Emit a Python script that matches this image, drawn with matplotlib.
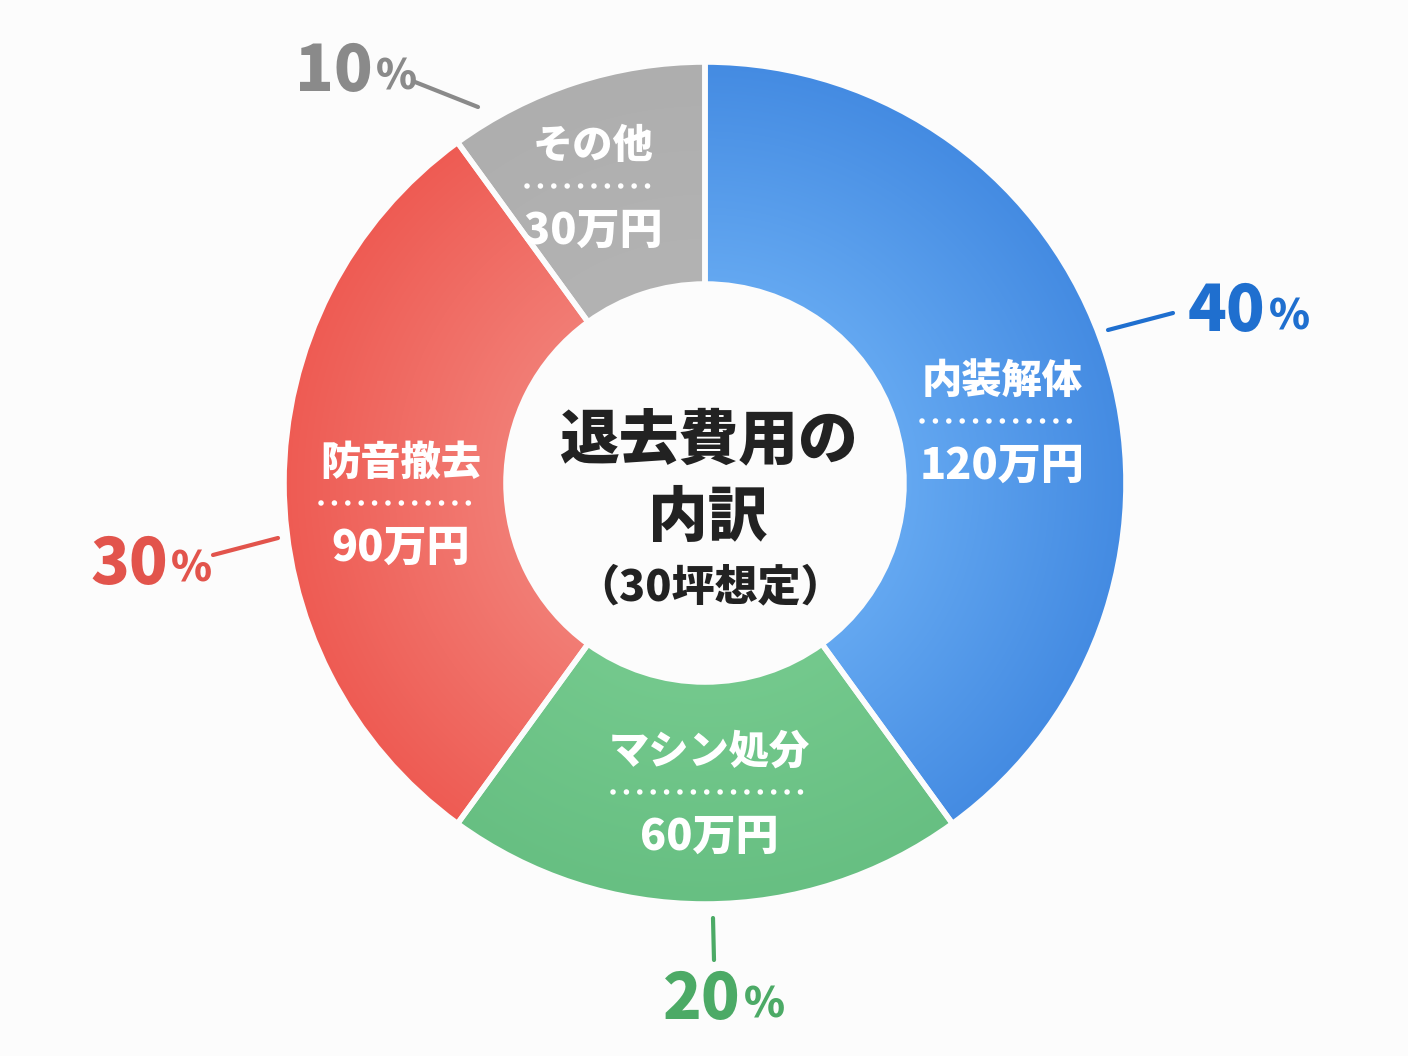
import matplotlib.pyplot as plt
import numpy as np
from matplotlib.colors import LinearSegmentedColormap

plt.rcParams['font.family'] = ['Noto Sans CJK JP', 'DejaVu Sans']

# data
categories = ['内装解体', 'マシン処分', '防音撤去', 'その他']
amounts = [120, 60, 90, 30]  # 万円
colors = ['#4f95e6', '#6dc487', '#ef6962', '#b0b0b0']
pct_colors = ['#1f6fcf', '#4caa66', '#e2544c', '#8a8a8a']

title_lines = ['退去費用の', '内訳', '（30坪想定）']

# shading: (inner colour, outer colour) for each wedge
shade = [('#64a8f1', '#448be2'), ('#74c98d', '#67bf82'),
         ('#f27d75', '#ee5b53'), ('#b3b3b3', '#aeaeae')]

W, H = 1408, 1056
CX, CY = 705, 483
R_OUT, R_IN = 421, 199
BG = '#fcfcfc'

# layout (pixel coords, y down)
inner_pos = [(1002, 421, 160), (709, 792, 192), (401, 503, 160), (593, 186, 133)]
pct_pos = [(1188, 312), (663, 1000), (90, 565), (295, 72)]
leader = [((1108, 330), (1173, 313)), ((713, 918), (714, 960)),
          ((213, 555), (278, 538)), ((415, 82), (478, 107))]


def fy(y):
    return H - y


fig = plt.figure(figsize=(W / 100, H / 100), dpi=100)
fig.patch.set_facecolor(BG)
ax = fig.add_axes([0, 0, 1, 1])

total = sum(amounts)
wedges, _ = ax.pie(amounts, colors=colors, startangle=90, counterclock=False,
                   center=(CX, fy(CY)), radius=R_OUT, frame=True,
                   wedgeprops=dict(width=R_OUT - R_IN, edgecolor=BG, linewidth=4))

# radial shading inside each wedge
gx, gy = np.meshgrid(np.arange(W) + 0.5, np.arange(H) + 0.5)
rr = np.hypot(gx - CX, gy - fy(CY))
rr = np.clip((rr - R_IN) / (R_OUT - R_IN), 0, 1)
for wdg, (c0, c1) in zip(wedges, shade):
    cmap = LinearSegmentedColormap.from_list('s', [c0, c1])
    im = ax.imshow(rr, cmap=cmap, extent=(0, W, 0, H), origin='lower',
                   zorder=1, interpolation='bilinear')
    im.set_clip_path(wdg)
    wdg.set_facecolor('none')
    wdg.set_zorder(2)

ax.set_xlim(0, W)
ax.set_ylim(0, H)
ax.set_aspect('equal')
ax.axis('off')

for i, (name, amt) in enumerate(zip(categories, amounts)):
    x, y, w = inner_pos[i]
    ax.text(x, fy(y - 40), name, ha='center', va='center', color='white',
            fontsize=29, fontweight='black', zorder=4)
    ax.plot([x - w / 2, x + w / 2], [fy(y), fy(y)], color='white', lw=4,
            linestyle=(0, (0.01, 2.4)), dash_capstyle='round', zorder=4)
    ax.text(x, fy(y + 45), f'{amt}万円', ha='center', va='center', color='white',
            fontsize=31, fontweight='black', zorder=4)

    pct = round(amt / total * 100)
    px, py = pct_pos[i]
    t = ax.text(px, fy(py), f'{pct}', ha='left', va='center', color=pct_colors[i],
                fontsize=46, fontweight='black')
    fig.canvas.draw()
    bb = t.get_window_extent()
    ax.text(bb.x1 + 3, fy(py) - 5, '%', ha='left', va='center', color=pct_colors[i],
            fontsize=30, fontweight='black')
    (x0, y0), (x1, y1) = leader[i]
    ax.plot([x0, x1], [fy(y0), fy(y1)], color=pct_colors[i], lw=3, solid_capstyle='round')

ax.text(708, fy(440), title_lines[0], ha='center', va='center', color='#222222',
        fontsize=43, fontweight='black')
ax.text(708, fy(518), title_lines[1], ha='center', va='center', color='#222222',
        fontsize=43, fontweight='black')
ax.text(710, fy(588), title_lines[2], ha='center', va='center', color='#222222',
        fontsize=31, fontweight='black')

fig.savefig('out.png', dpi=100, facecolor=fig.get_facecolor())
